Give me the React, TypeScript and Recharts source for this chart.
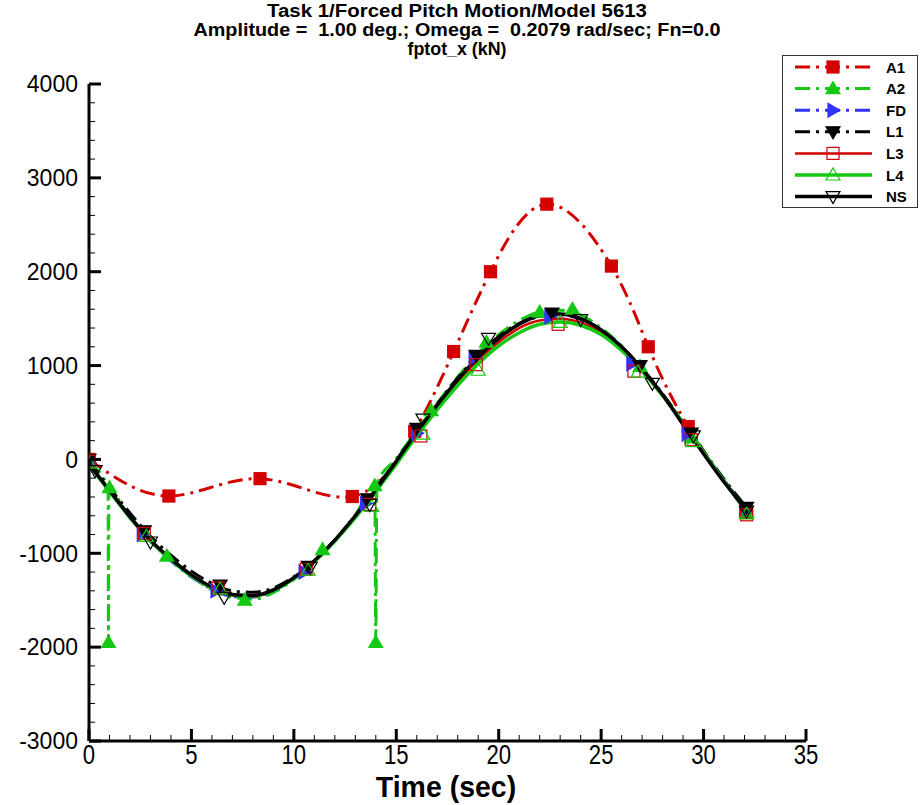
import React from 'react';
import { ComposedChart, Line, Scatter, XAxis, YAxis } from 'recharts';

// shared time base for the dense solver outputs (sec)
const TIME = [0, 1, 2, 3, 4, 5, 6, 7, 8, 9, 10, 11, 12, 13, 14, 15, 16, 17, 18, 19, 20, 21, 22, 23, 24, 25, 26, 27, 28, 29, 30, 31, 32.1];

// fptot_x (kN)
const FD = [-40, -330, -620, -870, -1080, -1250, -1380, -1460, -1465, -1400, -1270, -1090, -870, -610, -330, -30, 280, 570, 850, 1090, 1290, 1440, 1520, 1540, 1490, 1370, 1190, 960, 690, 390, 80, -220, -530];
const L1 = [-20, -300, -570, -820, -1020, -1190, -1320, -1400, -1415, -1370, -1250, -1080, -860, -600, -310, -10, 300, 590, 870, 1110, 1310, 1450, 1530, 1550, 1500, 1380, 1200, 970, 700, 400, 90, -210, -510];
const L3 = [-50, -340, -620, -870, -1070, -1240, -1370, -1450, -1460, -1395, -1270, -1090, -870, -610, -330, -40, 260, 550, 820, 1060, 1250, 1400, 1480, 1500, 1460, 1350, 1180, 950, 690, 390, 80, -230, -550];
const L4 = [-60, -340, -620, -870, -1070, -1240, -1370, -1445, -1455, -1395, -1270, -1090, -870, -620, -340, -50, 250, 530, 790, 1020, 1210, 1350, 1440, 1465, 1430, 1330, 1160, 940, 680, 390, 80, -230, -550];
const NS = [-50, -330, -610, -860, -1060, -1230, -1360, -1440, -1450, -1390, -1260, -1080, -860, -600, -320, -20, 290, 580, 850, 1090, 1290, 1440, 1530, 1550, 1500, 1380, 1200, 960, 690, 370, 60, -240, -540];

const A1_TIME = [0, 3.9, 8.35, 12.85, 15.9, 17.8, 19.6, 22.35, 25.5, 27.3, 29.25, 32.1];
const A1 = [0, -390, -205, -395, 300, 1150, 2000, 2720, 2060, 1200, 350, -565];

const A2_TIME = [0, 0.93, 0.95, 0.97, 2, 3, 4, 5, 6, 7, 8, 9, 10, 11, 12, 13, 13.95, 14.0, 14.05, 15, 16, 17, 18, 19, 20, 21, 22, 23, 24, 25, 26, 27, 28, 29, 30, 31, 32.1];
const A2 = [-40, -300, -1950, -330, -620, -870, -1070, -1250, -1390, -1470, -1490, -1420, -1280, -1090, -860, -590, -300, -1950, -260, 10, 310, 600, 880, 1130, 1330, 1480, 1570, 1590, 1540, 1400, 1210, 960, 690, 390, 70, -240, -560];

// symbol positions [t, value]
const A2_MARKS: [number, number][] = [[0, -30], [1.0, -300], [0.95, -1950], [3.8, -1030], [7.6, -1500], [11.4, -960], [13.95, -280], [14.0, -1950], [16.7, 520], [19.4, 1250], [22.0, 1570], [23.6, 1600], [26.9, 990], [29.4, 230], [32.1, -560]];
const FD_MARKS: [number, number][] = [[0, -30], [2.6, -800], [6.2, -1400], [10.5, -1200], [13.5, -470], [16.0, 280], [18.8, 1080], [22.5, 1520], [26.5, 1020], [29.2, 270], [32.0, -540]];
const L1_MARKS: [number, number][] = [[0, 0], [2.7, -760], [6.4, -1340], [10.7, -1140], [13.6, -420], [16.0, 330], [18.9, 1110], [22.6, 1560], [26.9, 1000], [29.4, 280], [32.1, -510]];
const L3_MARKS: [number, number][] = [[0, -20], [2.7, -790], [6.3, -1370], [10.6, -1170], [13.7, -480], [16.2, 250], [18.9, 1010], [22.9, 1440], [26.6, 940], [29.4, 210], [32.1, -590]];
const L4_MARKS: [number, number][] = [[0, -40], [2.8, -820], [6.4, -1380], [10.7, -1180], [13.8, -500], [16.3, 270], [19.0, 950], [23.0, 1460], [26.8, 930], [29.5, 190], [32.1, -580]];
const NS_MARKS: [number, number][] = [[0.3, -120], [3.0, -880], [6.6, -1470], [10.8, -1150], [13.7, -480], [16.3, 430], [19.5, 1290], [24.0, 1490], [27.5, 810], [29.5, 250], [32.1, -550]];

const X_LABELS = [0, 5, 10, 15, 20, 25, 30, 35];
const Y_LABELS = [-3000, -2000, -1000, 0, 1000, 2000, 3000, 4000];

const RED = '#d40000';
const GREEN = '#14c814';
const BLUE = '#3333ff';
const BLACK = '#000000';
const DASH = '15 6 3 6';

const SANS = '"Liberation Sans", Arial, Helvetica, sans-serif';

const X_TICKS = Array.from({ length: 36 }, (_, i) => i);
const Y_TICKS = Array.from({ length: 36 }, (_, i) => -3000 + i * 200);

const pts = (t: number[], v: number[]) => t.map((x, i) => ({ t: x, v: v[i] }));
const marks = (m: [number, number][]) => m.map(([t, v]) => ({ t, v }));

const SERIES = [
  { name: 'A1', color: RED, dash: DASH, width: 3, kind: 'square', filled: true, curve: 'natural', line: pts(A1_TIME, A1), marks: pts(A1_TIME, A1) },
  { name: 'A2', color: GREEN, dash: DASH, width: 3, kind: 'up', filled: true, curve: 'monotone', line: pts(A2_TIME, A2), marks: marks(A2_MARKS) },
  { name: 'FD', color: BLUE, dash: DASH, width: 3, kind: 'right', filled: true, curve: 'monotone', line: pts(TIME, FD), marks: marks(FD_MARKS) },
  { name: 'L1', color: BLACK, dash: DASH, width: 3, kind: 'down', filled: true, curve: 'monotone', line: pts(TIME, L1), marks: marks(L1_MARKS) },
  { name: 'L3', color: RED, dash: undefined, width: 2.5, kind: 'square', filled: false, curve: 'monotone', line: pts(TIME, L3), marks: marks(L3_MARKS) },
  { name: 'L4', color: GREEN, dash: undefined, width: 3.5, kind: 'up', filled: false, curve: 'monotone', line: pts(TIME, L4), marks: marks(L4_MARKS) },
  { name: 'NS', color: BLACK, dash: undefined, width: 3.5, kind: 'down', filled: false, curve: 'monotone', line: pts(TIME, NS), marks: marks(NS_MARKS) },
];

function Marker({ cx, cy, kind, color, filled }: any) {
  if (cx == null || cy == null) return null;
  const fill = filled ? color : 'none';
  if (kind === 'square') {
    return <rect x={cx - 6} y={cy - 6} width={12} height={12} fill={fill} stroke={color} strokeWidth={1.2} />;
  }
  const shape =
    kind === 'up' ? [[0, -7], [7, 5], [-7, 5]] : kind === 'down' ? [[-7, -5], [7, -5], [0, 7]] : [[-5, -7], [7, 0], [-5, 7]];
  return (
    <polygon
      points={shape.map(([dx, dy]) => `${cx + dx},${cy + dy}`).join(' ')}
      fill={fill}
      stroke={color}
      strokeWidth={1.2}
    />
  );
}

const YTick = (p: any) => {
  const v = p.payload.value;
  const major = Y_LABELS.includes(v);
  return (
    <g>
      <line x1={p.x} x2={p.x + (major ? 12 : 6)} y1={p.y} y2={p.y} stroke="#000" strokeWidth={major ? 3 : 1} />
      {major && (
        <text x={p.x - 11} y={p.y} dy="0.36em" textAnchor="end" fontFamily={SANS} fontSize={23} fill="#000">
          {v}
        </text>
      )}
    </g>
  );
};

// x labels in the original are a condensed face; squeeze horizontally
const XTick = (p: any) => {
  const v = p.payload.value;
  const major = X_LABELS.includes(v);
  return (
    <g>
      <line x1={p.x} x2={p.x} y1={p.y} y2={p.y - (major ? 12 : 6)} stroke="#000" strokeWidth={major ? 3 : 1} />
      {major && (
        <text
          transform={`translate(${p.x},${p.y + 23}) scale(0.82,1)`}
          textAnchor="middle"
          fontFamily={SANS}
          fontSize={27}
          fill="#000"
        >
          {v}
        </text>
      )}
    </g>
  );
};

export default function App() {
  return (
    <div style={{ position: 'relative', width: 920, height: 805, background: '#fff' }}>
      <style>{'body{margin:0}'}</style>
      <ComposedChart width={920} height={805} margin={{ top: 84, right: 114, bottom: 0, left: 0 }}>
        <XAxis
          dataKey="t"
          type="number"
          domain={[0, 35]}
          ticks={X_TICKS}
          interval={0}
          allowDataOverflow
          height={64}
          tickSize={0}
          tickMargin={0}
          tickLine={false}
          axisLine={{ stroke: '#000', strokeWidth: 3 }}
          tick={<XTick />}
        />
        <YAxis
          type="number"
          domain={[-3000, 4000]}
          ticks={Y_TICKS}
          interval={0}
          allowDataOverflow
          width={89}
          tickSize={0}
          tickMargin={0}
          tickLine={false}
          axisLine={{ stroke: '#000', strokeWidth: 3 }}
          tick={<YTick />}
        />
        {SERIES.map((s) => (
          <Line
            key={s.name}
            data={s.line}
            dataKey="v"
            type={s.curve as any}
            stroke={s.color}
            strokeWidth={s.width}
            strokeDasharray={s.dash}
            dot={false}
            activeDot={false}
            isAnimationActive={false}
          />
        ))}
        {SERIES.map((s) => (
          <Scatter
            key={`m-${s.name}`}
            data={s.marks}
            dataKey="v"
            isAnimationActive={false}
            shape={(p: any) => <Marker cx={p.cx} cy={p.cy} kind={s.kind} color={s.color} filled={s.filled} />}
          />
        ))}
      </ComposedChart>

      <svg width={920} height={805} style={{ position: 'absolute', left: 0, top: 0, pointerEvents: 'none' }}>
        <g fontFamily={SANS} fontWeight="bold" fontSize={18} textAnchor="middle" fill="#000">
          <text x={457} y={17} textLength={380} lengthAdjust="spacingAndGlyphs">
            Task 1/Forced Pitch Motion/Model 5613
          </text>
          <text x={457} y={36} textLength={527} lengthAdjust="spacingAndGlyphs" style={{ whiteSpace: 'pre' }}>
            {'Amplitude =  1.00 deg.; Omega =  0.2079 rad/sec; Fn=0.0'}
          </text>
          <text x={457} y={55} textLength={99} lengthAdjust="spacingAndGlyphs">
            fptot_x (kN)
          </text>
        </g>
        <text
          transform="translate(446,797) scale(0.95,1)"
          textAnchor="middle"
          fontFamily={SANS}
          fontWeight="bold"
          fontSize={30}
          fill="#000"
        >
          Time (sec)
        </text>

        <rect x={782.5} y={55.5} width={135} height={152} fill="#fff" stroke="#333" strokeWidth={1} />
        {SERIES.map((s, i) => {
          const y = 67 + i * 21.6;
          return (
            <g key={`lg-${s.name}`}>
              <line x1={795} x2={872} y1={y} y2={y} stroke={s.color} strokeWidth={s.width} strokeDasharray={s.dash} />
              <Marker cx={833} cy={y} kind={s.kind} color={s.color} filled={s.filled} />
              <text x={886} y={y + 5.5} fontFamily={SANS} fontWeight="bold" fontSize={15} fill="#000">
                {s.name}
              </text>
            </g>
          );
        })}
      </svg>
    </div>
  );
}
